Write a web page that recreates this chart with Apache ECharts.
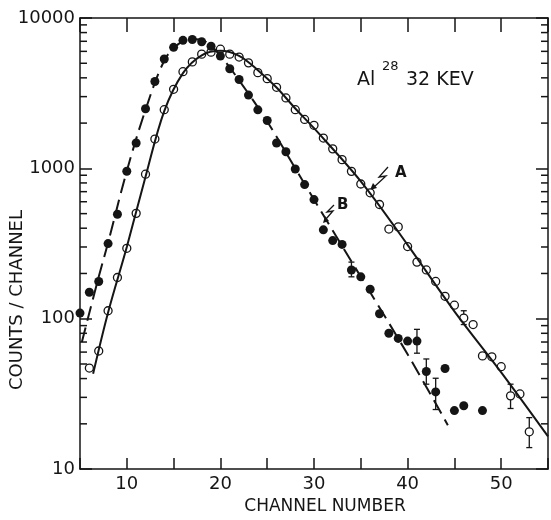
<!DOCTYPE html>
<html>
<head>
<meta charset="utf-8">
<script src="https://cdn.jsdelivr.net/npm/echarts@6/dist/echarts.min.js"></script>
<style>
  html, body { margin: 0; padding: 0; background: #fff; }
  #chart { width: 551px; height: 520px; }
</style>
</head>
<body>
<div id="chart"></div>
<script>
// open circles (A)
var channelsA = [6, 7, 8, 9, 10, 11, 12, 13, 14, 15, 16, 17, 18, 19, 20, 21, 22, 23, 24, 25, 26, 27, 28, 29,
  30, 31, 32, 33, 34, 35, 36, 37, 38, 39, 40, 41, 42, 43, 44, 45, 46, 47, 48, 49, 50, 51, 52, 53];
var countsA = [47, 61, 113, 188, 294, 502, 915, 1566, 2455, 3356, 4395, 5105, 5750, 5930, 6200, 5750, 5500, 5030, 4330, 3950, 3460, 2940, 2455, 2115,
  1934, 1590, 1348, 1143, 955, 787, 688, 575, 395, 408, 302, 238, 211, 177, 141, 123, 101, 91.5, 56.6, 55.8, 48, 30.7, 31.6, 17.7];

// filled circles (B)
var channelsB = [5, 6, 7, 8, 9, 10, 11, 12, 13, 14, 15, 16, 17, 18, 19, 20, 21, 22, 23, 24, 25, 26, 27, 28, 29,
  30, 31, 32, 33, 34, 35, 36, 37, 38, 39, 40, 41, 42, 43, 44, 45, 46, 48];
var countsB = [109, 150, 177, 316, 495, 956, 1475, 2490, 3785, 5340, 6380, 7100, 7200, 6950, 6490, 5580, 4600, 3900, 3070, 2450, 2080, 1475, 1290, 990, 780,
  620, 390, 331, 312, 211, 190, 157, 108, 80, 74, 71, 71, 44.6, 32.6, 46.7, 24.5, 26.4, 24.5];

// fitted curves
var curveAx = [6.4, 8, 10, 12, 14, 16, 18, 20, 22, 24, 26, 28, 30, 35, 40, 45, 50, 55];
var curveAy = [43, 110, 300, 880, 2400, 4300, 5650, 6050, 5600, 4500, 3450, 2500, 1850, 820, 310, 112, 44, 16.5];
var curveBx = [5.2, 7, 8, 10, 12, 14, 15.5, 17, 18.5, 20, 22, 25, 28, 30, 35, 40, 44.3];
var curveBy = [70, 190, 320, 960, 2450, 5200, 6700, 7250, 6900, 5600, 3850, 2050, 1000, 620, 190, 58, 19.6];

// error bars [channel, low, high]
var errorsA = [[46, 91.5, 113], [51, 25.3, 36.7], [53, 13.9, 22]];
var errorsB = [[34, 190, 238], [41, 59, 85], [42, 36.7, 54], [43, 24.9, 40.2]];

var minorTicks = [20, 30, 40, 50, 60, 70, 80, 90, 200, 300, 400, 500, 600, 700, 800, 900,
  2000, 3000, 4000, 5000, 6000, 7000, 8000, 9000];

var xMin = 5, xMax = 55;
var ink = '#151515';
var font = 'DejaVu Sans';

function pairs(xs, ys) {
  return xs.map(function (x, i) { return [x, ys[i]]; });
}

var chart = echarts.init(document.getElementById('chart'));

var xCommon = {
  type: 'value', min: xMin, max: xMax, interval: 5,
  splitLine: { show: false },
  axisLine: { lineStyle: { color: ink, width: 1.5 } }
};
var yCommon = {
  type: 'log', logBase: 10, min: 10, max: 10000,
  splitLine: { show: false },
  axisLine: { lineStyle: { color: ink, width: 1.5 } }
};

var option = {
  animation: false,
  backgroundColor: '#fff',
  grid: { left: 80, right: 1, top: 18, bottom: 40 },
  xAxis: [
    Object.assign({}, xCommon, {
      position: 'bottom',
      axisTick: { inside: true, length: 11, lineStyle: { color: ink, width: 1.5 } },
      axisLabel: {
        color: ink, fontFamily: font, fontSize: 18, margin: 6,
        formatter: function (v) { return v % 10 === 0 && v > xMin && v < xMax ? String(v) : ''; }
      },
      name: 'CHANNEL NUMBER', nameLocation: 'middle', nameGap: 28,
      nameTextStyle: { color: ink, fontFamily: font, fontSize: 17, padding: [0, 0, 0, 22] }
    }),
    Object.assign({}, xCommon, {
      position: 'top',
      axisTick: { inside: true, length: 14, lineStyle: { color: ink, width: 1.5 } },
      axisLabel: { show: false }
    })
  ],
  yAxis: [
    Object.assign({}, yCommon, {
      position: 'left',
      axisTick: { inside: true, length: 12, lineStyle: { color: ink, width: 1.5 } },
      axisLabel: {
        color: ink, fontFamily: font, fontSize: 18, margin: 5,
        formatter: function (v) { return String(Math.round(v)); }
      }
    }),
    Object.assign({}, yCommon, {
      position: 'right',
      axisTick: { inside: true, length: 12, lineStyle: { color: ink, width: 1.5 } },
      axisLabel: { show: false }
    })
  ],
  graphic: [
    {
      type: 'text', x: 17, y: 300, rotation: Math.PI / 2,
      style: { text: 'COUNTS / CHANNEL', fill: ink, font: '18px "DejaVu Sans"', textAlign: 'center', textVerticalAlign: 'middle' }
    },
    { type: 'text', x: 357, y: 80, style: { text: 'Al', fill: ink, font: '19px "DejaVu Sans"', textVerticalAlign: 'middle' } },
    { type: 'text', x: 382, y: 67, style: { text: '28', fill: ink, font: '13px "DejaVu Sans"', textVerticalAlign: 'middle' } },
    { type: 'text', x: 406, y: 80, style: { text: '32 KEV', fill: ink, font: '19px "DejaVu Sans"', textVerticalAlign: 'middle' } },
    { type: 'text', x: 395, y: 173, style: { text: 'A', fill: ink, font: 'bold 15px "DejaVu Sans"', textVerticalAlign: 'middle' } },
    { type: 'polyline', shape: { points: [[388, 167], [379, 177], [386, 176], [374, 187]] }, style: { stroke: ink, lineWidth: 1.3, fill: null } },
    { type: 'polygon', shape: { points: [[370, 190], [373, 183], [377, 188]] }, style: { fill: ink } },
    { type: 'text', x: 337, y: 205, style: { text: 'B', fill: ink, font: 'bold 15px "DejaVu Sans"', textVerticalAlign: 'middle' } },
    { type: 'polyline', shape: { points: [[334, 205], [327, 212], [333, 211], [326, 219]] }, style: { stroke: ink, lineWidth: 1.3, fill: null } },
    { type: 'polygon', shape: { points: [[323, 223], [325, 216], [329, 221]] }, style: { fill: ink } }
  ],
  series: [
    {
      name: 'minor ticks', type: 'custom', silent: true, clip: false,
      data: minorTicks.map(function (v) { return [xMin, v]; }),
      renderItem: function (params, api) {
        var v = api.value(1);
        var l = api.coord([xMin, v]);
        var r = api.coord([xMax, v]);
        var st = { stroke: ink, lineWidth: 1.5 };
        return {
          type: 'group', children: [
            { type: 'line', shape: { x1: l[0], y1: l[1], x2: l[0] + 7, y2: l[1] }, style: st },
            { type: 'line', shape: { x1: r[0] - 7, y1: r[1], x2: r[0], y2: r[1] }, style: st }
          ]
        };
      }
    },
    {
      name: 'A fit', type: 'line', data: pairs(curveAx, curveAy), smooth: 0.35,
      showSymbol: false, silent: true,
      lineStyle: { color: ink, width: 2 }
    },
    {
      name: 'B fit', type: 'line', data: pairs(curveBx, curveBy), smooth: 0.35,
      showSymbol: false, silent: true,
      lineStyle: { color: ink, width: 2, type: [15, 7] }
    },
    {
      name: 'error bars', type: 'custom', silent: true,
      data: errorsA.concat(errorsB),
      renderItem: function (params, api) {
        var lo = api.coord([api.value(0), api.value(1)]);
        var hi = api.coord([api.value(0), api.value(2)]);
        var st = { stroke: ink, lineWidth: 1.3 };
        return {
          type: 'group', children: [
            { type: 'line', shape: { x1: lo[0], y1: lo[1], x2: hi[0], y2: hi[1] }, style: st },
            { type: 'line', shape: { x1: lo[0] - 3, y1: lo[1], x2: lo[0] + 3, y2: lo[1] }, style: st },
            { type: 'line', shape: { x1: hi[0] - 3, y1: hi[1], x2: hi[0] + 3, y2: hi[1] }, style: st }
          ]
        };
      }
    },
    {
      name: 'A', type: 'scatter', data: pairs(channelsA, countsA),
      symbol: 'circle', symbolSize: 8,
      itemStyle: { color: '#fff', borderColor: ink, borderWidth: 1.3, opacity: 1 }
    },
    {
      name: 'B', type: 'scatter', data: pairs(channelsB, countsB),
      symbol: 'circle', symbolSize: 9,
      itemStyle: { color: ink, opacity: 1 }
    }
  ]
};

chart.setOption(option);
</script>
</body>
</html>
